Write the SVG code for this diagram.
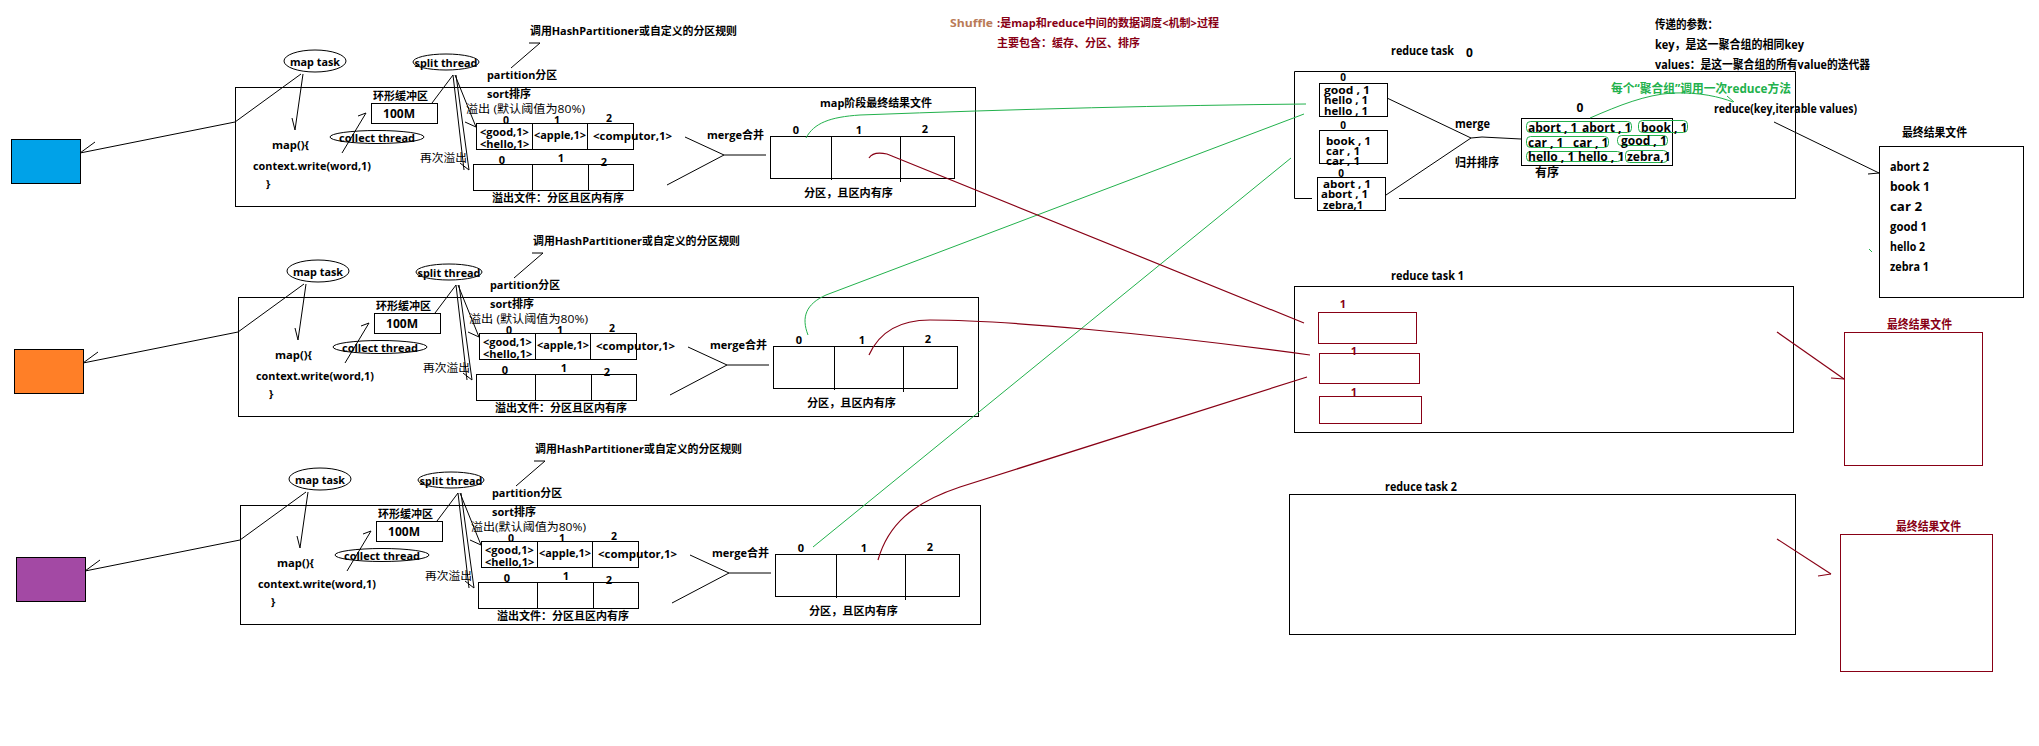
<svg xmlns="http://www.w3.org/2000/svg" width="2039" height="746" viewBox="0 0 2039 746">
<style>
text{font-family:"Open Sans","Noto Sans CJK SC",sans-serif;font-weight:700;font-size:11px;dominant-baseline:central;fill:#000}
tspan{dominant-baseline:central}
.r12{font-size:12px}
.r10{font-size:10px}
.d{font-size:10.5px}
.c{text-anchor:middle}
.red{fill:#880015}
.grn{fill:#22B14C}
.brn{fill:#B97A57}
.reg{font-weight:400;font-size:11.5px}
.b{fill:none;stroke:#000;stroke-width:1}
.bw{fill:#fff;stroke:#000;stroke-width:1}
.rb{fill:none;stroke:#880015;stroke-width:1}
.gb{fill:none;stroke:#22B14C;stroke-width:1}
.ln{fill:none;stroke:#000;stroke-width:1}
.gl{fill:none;stroke:#22B14C;stroke-width:1}
.rl{fill:none;stroke:#880015;stroke-width:1.2}
</style>
<rect width="2039" height="746" fill="#fff"/>

<!-- Title -->
<g id="title">
<text x="950" y="22" class="brn" textLength="43" lengthAdjust="spacingAndGlyphs">Shuffle</text>
<text x="997" y="22" class="red" textLength="222" lengthAdjust="spacingAndGlyphs">:是map和reduce中间的数据调度&lt;机制&gt;过程</text>
<text x="997" y="42" class="red" textLength="143" lengthAdjust="spacingAndGlyphs">主要包含：缓存、分区、排序</text>
</g>

<!-- ===== MAP BLOCK 1 ===== -->
<g id="map-block-1">
<g id="m1-input"><rect x="11.5" y="139.5" width="69" height="44" fill="#00A2E8" stroke="#000"/></g>
<g id="m1-maptask-box"><rect x="235.5" y="87.5" width="740" height="119" class="b"/></g>
<g id="m1-maptask"><ellipse cx="315" cy="61" rx="31" ry="11" class="b"/><text x="315" y="61" class="c" textLength="50" lengthAdjust="spacingAndGlyphs">map task</text></g>
<g id="m1-code">
<text x="272" y="144" textLength="37" lengthAdjust="spacingAndGlyphs">map(){</text>
<text x="253" y="165" textLength="118" lengthAdjust="spacingAndGlyphs">context.write(word,1)</text>
<text x="266" y="183">}</text>
</g>
<g id="m1-ringbuffer">
<text x="373" y="95" textLength="55" lengthAdjust="spacingAndGlyphs">环形缓冲区</text>
<rect x="371.5" y="103.5" width="66" height="20" class="b"/>
<text x="383" y="113" class="r12" textLength="32" lengthAdjust="spacingAndGlyphs">100M</text>
</g>
<g id="m1-collect"><ellipse cx="377" cy="137" rx="47" ry="6.5" class="b"/><text x="377" y="137" class="c" textLength="76" lengthAdjust="spacingAndGlyphs">collect thread</text></g>
<g id="m1-split"><ellipse cx="446" cy="62" rx="33" ry="8" class="b"/><text x="446" y="62" class="c" textLength="63" lengthAdjust="spacingAndGlyphs">split thread</text></g>
<g id="m1-partition">
<text x="487" y="74" textLength="70" lengthAdjust="spacingAndGlyphs">partition分区</text>
<text x="530" y="30" textLength="207" lengthAdjust="spacingAndGlyphs">调用HashPartitioner或自定义的分区规则</text>
<text x="487" y="93" textLength="44" lengthAdjust="spacingAndGlyphs">sort排序</text>
<text x="466" y="108" class="reg" textLength="119" lengthAdjust="spacingAndGlyphs">溢出 (默认阈值为80%)</text>
</g>
<g id="m1-buffer">
<text x="506" y="119.5" class="c d">0</text><text x="557" y="119.5" class="c d">1</text><text x="609" y="118" class="c d">2</text>
<rect x="476.5" y="123.5" width="157" height="26" class="b"/>
<line x1="532.5" y1="124" x2="532.5" y2="149" class="ln"/><line x1="587.5" y1="124" x2="587.5" y2="149" class="ln"/>
<text x="480" y="131">&lt;good,1&gt;<tspan x="480" y="143">&lt;hello,1&gt;</tspan></text>
<text x="534" y="134" textLength="52" lengthAdjust="spacingAndGlyphs">&lt;apple,1&gt;</text>
<text x="593" y="135" textLength="79" lengthAdjust="spacingAndGlyphs">&lt;computor,1&gt;</text>
</g>
<g id="m1-spill">
<text x="420" y="157" class="reg" textLength="47" lengthAdjust="spacingAndGlyphs">再次溢出</text>
<text x="502" y="159" class="c">0</text><text x="561" y="157" class="c">1</text><text x="604" y="161" class="c">2</text>
<rect x="473.5" y="164.5" width="160" height="26" class="b"/>
<line x1="532.5" y1="165" x2="532.5" y2="190" class="ln"/><line x1="588.5" y1="165" x2="588.5" y2="190" class="ln"/>
<text x="492" y="197" textLength="132" lengthAdjust="spacingAndGlyphs">溢出文件：分区且区内有序</text>
</g>
<g id="m1-result">
<text x="707" y="134" textLength="57" lengthAdjust="spacingAndGlyphs">merge合并</text>
<text x="820" y="102" textLength="112" lengthAdjust="spacingAndGlyphs">map阶段最终结果文件</text>
<text x="796" y="129" class="c">0</text><text x="859" y="129" class="c">1</text><text x="925" y="128" class="c">2</text>
<rect x="770.5" y="136.5" width="184" height="42" class="b"/>
<line x1="831.5" y1="137" x2="831.5" y2="180" class="ln"/><line x1="900.5" y1="137" x2="900.5" y2="182" class="ln"/>
<text x="804" y="192" textLength="89" lengthAdjust="spacingAndGlyphs">分区，且区内有序</text>
</g>
</g>

<!-- ===== MAP BLOCK 2 ===== -->
<g id="map-block-2" transform="translate(3,210)">
<g id="m2-input"><rect x="11.5" y="139.5" width="69" height="44" fill="#FF7F27" stroke="#000"/></g>
<g id="m2-maptask-box"><rect x="235.5" y="87.5" width="740" height="119" class="b"/></g>
<g id="m2-maptask"><ellipse cx="315" cy="61" rx="31" ry="11" class="b"/><text x="315" y="61" class="c" textLength="50" lengthAdjust="spacingAndGlyphs">map task</text></g>
<g id="m2-code">
<text x="272" y="144" textLength="37" lengthAdjust="spacingAndGlyphs">map(){</text>
<text x="253" y="165" textLength="118" lengthAdjust="spacingAndGlyphs">context.write(word,1)</text>
<text x="266" y="183">}</text>
</g>
<g id="m2-ringbuffer">
<text x="373" y="95" textLength="55" lengthAdjust="spacingAndGlyphs">环形缓冲区</text>
<rect x="371.5" y="103.5" width="66" height="20" class="b"/>
<text x="383" y="113" class="r12" textLength="32" lengthAdjust="spacingAndGlyphs">100M</text>
</g>
<g id="m2-collect"><ellipse cx="377" cy="137" rx="47" ry="6.5" class="b"/><text x="377" y="137" class="c" textLength="76" lengthAdjust="spacingAndGlyphs">collect thread</text></g>
<g id="m2-split"><ellipse cx="446" cy="62" rx="33" ry="8" class="b"/><text x="446" y="62" class="c" textLength="63" lengthAdjust="spacingAndGlyphs">split thread</text></g>
<g id="m2-partition">
<text x="487" y="74" textLength="70" lengthAdjust="spacingAndGlyphs">partition分区</text>
<text x="530" y="30" textLength="207" lengthAdjust="spacingAndGlyphs">调用HashPartitioner或自定义的分区规则</text>
<text x="487" y="93" textLength="44" lengthAdjust="spacingAndGlyphs">sort排序</text>
<text x="466" y="108" class="reg" textLength="119" lengthAdjust="spacingAndGlyphs">溢出 (默认阈值为80%)</text>
</g>
<g id="m2-buffer">
<text x="506" y="119.5" class="c d">0</text><text x="557" y="119.5" class="c d">1</text><text x="609" y="118" class="c d">2</text>
<rect x="476.5" y="123.5" width="157" height="26" class="b"/>
<line x1="532.5" y1="124" x2="532.5" y2="149" class="ln"/><line x1="587.5" y1="124" x2="587.5" y2="149" class="ln"/>
<text x="480" y="131">&lt;good,1&gt;<tspan x="480" y="143">&lt;hello,1&gt;</tspan></text>
<text x="534" y="134" textLength="52" lengthAdjust="spacingAndGlyphs">&lt;apple,1&gt;</text>
<text x="593" y="135" textLength="79" lengthAdjust="spacingAndGlyphs">&lt;computor,1&gt;</text>
</g>
<g id="m2-spill">
<text x="420" y="157" class="reg" textLength="47" lengthAdjust="spacingAndGlyphs">再次溢出</text>
<text x="502" y="159" class="c">0</text><text x="561" y="157" class="c">1</text><text x="604" y="161" class="c">2</text>
<rect x="473.5" y="164.5" width="160" height="26" class="b"/>
<line x1="532.5" y1="165" x2="532.5" y2="190" class="ln"/><line x1="588.5" y1="165" x2="588.5" y2="190" class="ln"/>
<text x="492" y="197" textLength="132" lengthAdjust="spacingAndGlyphs">溢出文件：分区且区内有序</text>
</g>
<g id="m2-result">
<text x="707" y="134" textLength="57" lengthAdjust="spacingAndGlyphs">merge合并</text>
<text x="796" y="129" class="c">0</text><text x="859" y="129" class="c">1</text><text x="925" y="128" class="c">2</text>
<rect x="770.5" y="136.5" width="184" height="42" class="b"/>
<line x1="831.5" y1="137" x2="831.5" y2="180" class="ln"/><line x1="900.5" y1="137" x2="900.5" y2="182" class="ln"/>
<text x="804" y="192" textLength="89" lengthAdjust="spacingAndGlyphs">分区，且区内有序</text>
</g>
</g>

<!-- ===== MAP BLOCK 3 ===== -->
<g id="map-block-3" transform="translate(5,418)">
<g id="m3-input"><rect x="11.5" y="139.5" width="69" height="44" fill="#A349A4" stroke="#000"/></g>
<g id="m3-maptask-box"><rect x="235.5" y="87.5" width="740" height="119" class="b"/></g>
<g id="m3-maptask"><ellipse cx="315" cy="61" rx="31" ry="11" class="b"/><text x="315" y="61" class="c" textLength="50" lengthAdjust="spacingAndGlyphs">map task</text></g>
<g id="m3-code">
<text x="272" y="144" textLength="37" lengthAdjust="spacingAndGlyphs">map(){</text>
<text x="253" y="165" textLength="118" lengthAdjust="spacingAndGlyphs">context.write(word,1)</text>
<text x="266" y="183">}</text>
</g>
<g id="m3-ringbuffer">
<text x="373" y="95" textLength="55" lengthAdjust="spacingAndGlyphs">环形缓冲区</text>
<rect x="371.5" y="103.5" width="66" height="20" class="b"/>
<text x="383" y="113" class="r12" textLength="32" lengthAdjust="spacingAndGlyphs">100M</text>
</g>
<g id="m3-collect"><ellipse cx="377" cy="137" rx="47" ry="6.5" class="b"/><text x="377" y="137" class="c" textLength="76" lengthAdjust="spacingAndGlyphs">collect thread</text></g>
<g id="m3-split"><ellipse cx="446" cy="62" rx="33" ry="8" class="b"/><text x="446" y="62" class="c" textLength="63" lengthAdjust="spacingAndGlyphs">split thread</text></g>
<g id="m3-partition">
<text x="487" y="74" textLength="70" lengthAdjust="spacingAndGlyphs">partition分区</text>
<text x="530" y="30" textLength="207" lengthAdjust="spacingAndGlyphs">调用HashPartitioner或自定义的分区规则</text>
<text x="487" y="93" textLength="44" lengthAdjust="spacingAndGlyphs">sort排序</text>
<text x="466" y="108" class="reg" textLength="115" lengthAdjust="spacingAndGlyphs">溢出(默认阈值为80%)</text>
</g>
<g id="m3-buffer">
<text x="506" y="119.5" class="c d">0</text><text x="557" y="119.5" class="c d">1</text><text x="609" y="118" class="c d">2</text>
<rect x="476.5" y="123.5" width="157" height="26" class="b"/>
<line x1="532.5" y1="124" x2="532.5" y2="149" class="ln"/><line x1="587.5" y1="124" x2="587.5" y2="149" class="ln"/>
<text x="480" y="131">&lt;good,1&gt;<tspan x="480" y="143">&lt;hello,1&gt;</tspan></text>
<text x="534" y="134" textLength="52" lengthAdjust="spacingAndGlyphs">&lt;apple,1&gt;</text>
<text x="593" y="135" textLength="79" lengthAdjust="spacingAndGlyphs">&lt;computor,1&gt;</text>
</g>
<g id="m3-spill">
<text x="420" y="157" class="reg" textLength="47" lengthAdjust="spacingAndGlyphs">再次溢出</text>
<text x="502" y="159" class="c">0</text><text x="561" y="157" class="c">1</text><text x="604" y="161" class="c">2</text>
<rect x="473.5" y="164.5" width="160" height="26" class="b"/>
<line x1="532.5" y1="165" x2="532.5" y2="190" class="ln"/><line x1="588.5" y1="165" x2="588.5" y2="190" class="ln"/>
<text x="492" y="197" textLength="132" lengthAdjust="spacingAndGlyphs">溢出文件：分区且区内有序</text>
</g>
<g id="m3-result">
<text x="707" y="134" textLength="57" lengthAdjust="spacingAndGlyphs">merge合并</text>
<text x="796" y="129" class="c">0</text><text x="859" y="129" class="c">1</text><text x="925" y="128" class="c">2</text>
<rect x="770.5" y="136.5" width="184" height="42" class="b"/>
<line x1="831.5" y1="137" x2="831.5" y2="180" class="ln"/><line x1="900.5" y1="137" x2="900.5" y2="182" class="ln"/>
<text x="804" y="192" textLength="89" lengthAdjust="spacingAndGlyphs">分区，且区内有序</text>
</g>
</g>

<!-- ===== REDUCE TASK 0 ===== -->
<g id="reduce-task-0">
<text x="1391" y="50" class="r12" textLength="63" lengthAdjust="spacingAndGlyphs">reduce task</text>
<text x="1466" y="52" class="r12">0</text>
<path d="M1312,198.5 H1294.5 V71.5 H1795.5 V198.5 H1399" class="b"/>
<g id="r0-part-a">
<text x="1343" y="77" class="c r10">0</text>
<rect x="1319.5" y="83.5" width="68" height="33" class="b"/>
<text x="1324" y="89.5" class="r10" textLength="46" lengthAdjust="spacingAndGlyphs">good , 1</text>
<text x="1324" y="100" class="r10" textLength="44" lengthAdjust="spacingAndGlyphs">hello , 1</text>
<text x="1324" y="110.5" class="r10" textLength="44" lengthAdjust="spacingAndGlyphs">hello , 1</text>
</g>
<g id="r0-part-b">
<text x="1343" y="124.5" class="c r10">0</text>
<rect x="1319.5" y="130.5" width="68" height="33" class="b"/>
<text x="1326" y="140.5" class="r10" textLength="45" lengthAdjust="spacingAndGlyphs">book , 1</text>
<text x="1326" y="150.5" class="r10" textLength="34" lengthAdjust="spacingAndGlyphs">car , 1</text>
<text x="1326" y="160.5" class="r10" textLength="34" lengthAdjust="spacingAndGlyphs">car , 1</text>
</g>
<g id="r0-part-c">
<text x="1341" y="172.5" class="c r10">0</text>
<rect x="1317.5" y="177.5" width="68" height="33" class="bw"/>
<text x="1323" y="183.5" class="r10" textLength="48" lengthAdjust="spacingAndGlyphs">abort , 1</text>
<text x="1321" y="194" class="r10" textLength="47" lengthAdjust="spacingAndGlyphs">abort , 1</text>
<text x="1323" y="204.5" class="r10" textLength="40" lengthAdjust="spacingAndGlyphs">zebra,1</text>
</g>
<text x="1455" y="123" class="r12" textLength="35" lengthAdjust="spacingAndGlyphs">merge</text>
<text x="1455" y="162" class="r12" textLength="44" lengthAdjust="spacingAndGlyphs">归并排序</text>
<g id="r0-sorted">
<rect x="1521.5" y="118.5" width="151" height="47" class="b"/>
<rect x="1526.5" y="121.5" width="105" height="11" rx="4" class="gb"/>
<rect x="1638.5" y="120.5" width="49" height="12" rx="4" class="gb"/>
<rect x="1526.5" y="136.5" width="82" height="11" rx="4" class="gb"/>
<rect x="1617.5" y="135.5" width="50" height="10" rx="4" class="gb"/>
<rect x="1526.5" y="151.5" width="95" height="10" rx="4" class="gb"/>
<rect x="1625.5" y="150.5" width="42" height="12" rx="4" class="gb"/>
<text class="r12" x="1576.5" y="107">0<tspan x="1528" y="127">abort , 1</tspan><tspan x="1582" y="127">abort , 1</tspan><tspan x="1641" y="127">book , 1</tspan><tspan x="1528" y="142">car , 1</tspan><tspan x="1573" y="142">car , 1</tspan><tspan x="1621" y="140">good , 1</tspan><tspan x="1528" y="156">hello , 1</tspan><tspan x="1578" y="156">hello , 1</tspan><tspan x="1627" y="156">zebra,1</tspan><tspan x="1535" y="172">有序</tspan></text>
</g>
<text x="1611" y="88" class="grn r12" textLength="180" lengthAdjust="spacingAndGlyphs">每个“聚合组”调用一次reduce方法</text>
<text x="1714" y="108" class="r12" textLength="143" lengthAdjust="spacingAndGlyphs">reduce(key,iterable values)</text>
</g>
<g id="params">
<text x="1655" y="24" class="r12" textLength="63" lengthAdjust="spacingAndGlyphs">传递的参数：</text>
<text x="1655" y="44" class="r12" textLength="149" lengthAdjust="spacingAndGlyphs">key，是这一聚合组的相同key</text>
<text x="1655" y="64" class="r12" textLength="215" lengthAdjust="spacingAndGlyphs">values：是这一聚合组的所有value的迭代器</text>
</g>
<g id="result-file-0">
<text x="1902" y="132" class="r12" textLength="65" lengthAdjust="spacingAndGlyphs">最终结果文件</text>
<rect x="1879.5" y="146.5" width="144" height="151" class="b"/>
<text x="1890" y="166" class="r12" textLength="39" lengthAdjust="spacingAndGlyphs">abort 2</text>
<text x="1890" y="186" class="r12" textLength="40" lengthAdjust="spacingAndGlyphs">book  1</text>
<text x="1890" y="206" class="r12" textLength="32" lengthAdjust="spacingAndGlyphs">car   2</text>
<text x="1890" y="226" class="r12" textLength="37" lengthAdjust="spacingAndGlyphs">good 1</text>
<text x="1890" y="246" class="r12" textLength="35" lengthAdjust="spacingAndGlyphs">hello 2</text>
<text x="1890" y="266" class="r12" textLength="39" lengthAdjust="spacingAndGlyphs">zebra 1</text>
</g>

<!-- ===== REDUCE TASK 1 ===== -->
<g id="reduce-task-1">
<text x="1391" y="275" class="r12" textLength="73" lengthAdjust="spacingAndGlyphs">reduce task 1</text>
<rect x="1294.5" y="286.5" width="499" height="146" class="b"/>
<text x="1343" y="303" class="c red">1</text>
<rect x="1318.5" y="312.5" width="98" height="31" class="rb"/>
<text x="1354" y="350" class="c red">1</text>
<rect x="1319.5" y="353.5" width="100" height="30" class="rb"/>
<text x="1354" y="391" class="c red">1</text>
<rect x="1319.5" y="396.5" width="102" height="27" class="rb"/>
</g>
<g id="result-file-1">
<text x="1887" y="324" class="red r12" textLength="65" lengthAdjust="spacingAndGlyphs">最终结果文件</text>
<rect x="1844.5" y="332.5" width="138" height="133" class="rb"/>
</g>

<!-- ===== REDUCE TASK 2 ===== -->
<g id="reduce-task-2">
<text x="1385" y="486" class="r12" textLength="72" lengthAdjust="spacingAndGlyphs">reduce task 2</text>
<rect x="1289.5" y="494.5" width="506" height="140" class="b"/>
</g>
<g id="result-file-2">
<text x="1896" y="526" class="red r12" textLength="65" lengthAdjust="spacingAndGlyphs">最终结果文件</text>
<rect x="1840.5" y="534.5" width="152" height="137" class="rb"/>
</g>

<!-- ===== CONNECTORS ===== -->
<g id="connectors">
<g id="map-arrows-1">
<polyline points="301,74 235,122 80,153" class="ln"/><line x1="80" y1="153" x2="95" y2="142" class="ln"/>
<line x1="303" y1="74" x2="295" y2="130" class="ln"/><line x1="292" y1="118" x2="295" y2="130" class="ln"/>
<line x1="342" y1="153" x2="366" y2="113" class="ln"/><line x1="358" y1="116" x2="366" y2="113" class="ln"/>
<line x1="453" y1="75" x2="432" y2="103" class="ln"/>
<line x1="455" y1="75" x2="476" y2="127" class="ln"/><line x1="465" y1="122" x2="476" y2="127" class="ln"/>
<line x1="453" y1="75" x2="464" y2="170" class="ln"/><line x1="456" y1="75" x2="469" y2="170" class="ln"/><line x1="460" y1="163" x2="469" y2="170" class="ln"/>
<line x1="511" y1="68" x2="540" y2="43" class="ln"/><line x1="529" y1="43" x2="540" y2="43" class="ln"/>
<polyline points="685,137 724,155 667,185" class="ln"/><line x1="724" y1="155" x2="766" y2="155" class="ln"/>
</g>
<g id="map-arrows-2" transform="translate(3,210)">
<polyline points="301,74 235,122 80,153" class="ln"/><line x1="80" y1="153" x2="95" y2="142" class="ln"/>
<line x1="303" y1="74" x2="295" y2="130" class="ln"/><line x1="292" y1="118" x2="295" y2="130" class="ln"/>
<line x1="342" y1="153" x2="366" y2="113" class="ln"/><line x1="358" y1="116" x2="366" y2="113" class="ln"/>
<line x1="453" y1="75" x2="432" y2="103" class="ln"/>
<line x1="455" y1="75" x2="476" y2="127" class="ln"/><line x1="465" y1="122" x2="476" y2="127" class="ln"/>
<line x1="453" y1="75" x2="464" y2="170" class="ln"/><line x1="456" y1="75" x2="469" y2="170" class="ln"/><line x1="460" y1="163" x2="469" y2="170" class="ln"/>
<line x1="511" y1="68" x2="540" y2="43" class="ln"/><line x1="529" y1="43" x2="540" y2="43" class="ln"/>
<polyline points="685,137 724,155 667,185" class="ln"/><line x1="724" y1="155" x2="766" y2="155" class="ln"/>
</g>
<g id="map-arrows-3" transform="translate(5,418)">
<polyline points="301,74 235,122 80,153" class="ln"/><line x1="80" y1="153" x2="95" y2="142" class="ln"/>
<line x1="303" y1="74" x2="295" y2="130" class="ln"/><line x1="292" y1="118" x2="295" y2="130" class="ln"/>
<line x1="342" y1="153" x2="366" y2="113" class="ln"/><line x1="358" y1="116" x2="366" y2="113" class="ln"/>
<line x1="453" y1="75" x2="432" y2="103" class="ln"/>
<line x1="455" y1="75" x2="476" y2="127" class="ln"/><line x1="465" y1="122" x2="476" y2="127" class="ln"/>
<line x1="453" y1="75" x2="464" y2="170" class="ln"/><line x1="456" y1="75" x2="469" y2="170" class="ln"/><line x1="460" y1="163" x2="469" y2="170" class="ln"/>
<line x1="511" y1="68" x2="540" y2="43" class="ln"/><line x1="529" y1="43" x2="540" y2="43" class="ln"/>
<polyline points="685,137 724,155 667,185" class="ln"/><line x1="724" y1="155" x2="766" y2="155" class="ln"/>
</g>
<!-- shuffle: partition 0 (green) -->
<path d="M806,138 C814,123 830,117 860,115 Q1100,106 1306,104" class="gl"/>
<path d="M808,335 C801,317 806,304 826,295 L1304,114" class="gl"/>
<line x1="813" y1="547" x2="1291" y2="158" class="gl"/>
<!-- shuffle: partition 1 (dark red) -->
<path d="M869,158 C872,153 878,152 887,154 L1304,323" class="rl"/>
<path d="M869,355 C878,335 895,320 930,320 C1000,320 1150,333 1310,355" class="rl"/>
<path d="M878,560 C888,525 912,503 960,487 L1307,377" class="rl"/>
<!-- reduce 0 -->
<polyline points="1387,98 1471,138 1386,195" class="ln"/>
<polyline points="1471,138 1482,137 1521,139" class="ln"/>
<path d="M1590,118 C1620,105 1645,95 1672,93 C1700,92 1720,97 1733,102" class="gl"/><line x1="1727" y1="96" x2="1734" y2="102" class="gl"/>
<line x1="1774" y1="122" x2="1879" y2="173" class="ln"/><line x1="1868" y1="174" x2="1879" y2="173" class="ln"/>
<line x1="1869" y1="249" x2="1872" y2="252" class="gl"/>
<!-- reduce 1, 2 -->
<line x1="1777" y1="332" x2="1844" y2="379" class="rl"/><line x1="1831" y1="378" x2="1844" y2="379" class="rl"/>
<line x1="1777" y1="539" x2="1831" y2="574" class="rl"/><line x1="1818" y1="576" x2="1831" y2="574" class="rl"/>
</g>
</svg>
